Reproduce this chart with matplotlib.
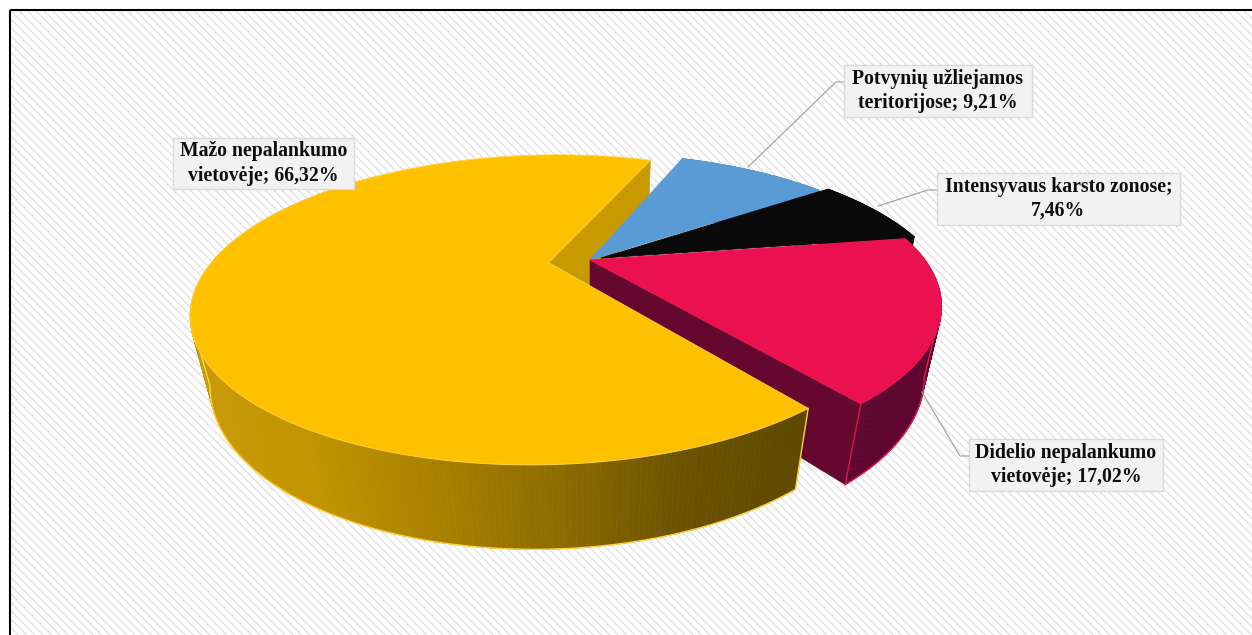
import numpy as np
import matplotlib
matplotlib.use("Agg")
import matplotlib.pyplot as plt
from matplotlib.patches import Polygon, Rectangle

# ---- data ----
categories = ["Mažo nepalankumo\nvietovėje", "Potvynių užliejamos\nteritorijose",
              "Intensyvaus karsto zonose", "Didelio nepalankumo\nvietovėje"]
values = [66.32, 9.21, 7.46, 17.02]
value_labels = ["66,32%", "9,21%", "7,46%", "17,02%"]
separators = ["; ", "; ", ";\n", "; "]
first_slice_angle = 142.0

top_colors = ["#FFC000", "#5B9BD5", "#0A0A0A", "#EB1150"]
wall_colors = ["#C39600", "#2F5F8A", "#050505", "#5E0630"]
cut_colors = ["#C79A00", "#3A6E9C", "#050505", "#640830"]
edge_colors = ["#FFD23C", "#5B9BD5", "#0A0A0A", "#E8174F"]
explode = [0.125, 0, 0.035, 0]

# ---- layout (pixels) ----
W, H = 1252, 635
X0, Y0, A, B, K, Q, C = 590, 260, 335, 139, 0.303, 0.047, 72

boxes = [(173, 138, 354, 189), (844, 65, 1032, 117), (937, 173, 1180, 225), (969, 439, 1163, 491)]
leaders = [None,
           [(748, 167), (836, 82), (845, 82)],
           [(878, 206), (928, 190), (938, 190)],
           [(922, 392), (960, 456), (969, 456)]]

fig = plt.figure(figsize=(W / 100, H / 100), dpi=100, facecolor="white")
ax = fig.add_axes([0, 0, 1, 1])
ax.set_xlim(0, W)
ax.set_ylim(H, 0)
ax.axis("off")

plt.rcParams["hatch.linewidth"] = 1.0
ax.add_patch(Rectangle((10, 10), W + 50, H + 50, facecolor="white", edgecolor="#E2E2E2",
                       hatch="\\\\\\\\", linewidth=0, zorder=0))
ax.plot([10, 10], [H + 5, 10], color="black", lw=1.5, zorder=1, solid_capstyle="butt")
ax.plot([10, W + 5], [10, 10], color="black", lw=1.5, zorder=1, solid_capstyle="butt")


def proj(u, v, z=0.0):
    w = 1 + K * v + Q * z
    return X0 + A * u / w, Y0 + (-B * v + C * z) / w


def rim(th0, th1, du, dv, z=0.0, n=240):
    t = np.radians(np.linspace(th0, th1, n))
    return proj(np.sin(t) + du, np.cos(t) + dv, z)


spans = np.array(values) / sum(values) * 360
starts = first_slice_angle + np.concatenate(([0], np.cumsum(spans)[:-1]))
mids = starts + spans / 2
offs = [(e * np.sin(np.radians(m)), e * np.cos(np.radians(m))) for e, m in zip(explode, mids)]


def top_face(i, z):
    du, dv = offs[i]
    x, y = rim(starts[i], starts[i] + spans[i], du, dv)
    cx, cy = proj(du, dv)
    pts = np.column_stack([np.r_[cx, x], np.r_[cy, y]])
    ax.add_patch(Polygon(pts, closed=True, facecolor=top_colors[i], edgecolor=edge_colors[i],
                         lw=0.7, zorder=z))


def cut_face(i, angle, z, color):
    du, dv = offs[i]
    t = np.radians(angle)
    u, v = np.sin(t) + du, np.cos(t) + dv
    p = [proj(du, dv, 0), proj(u, v, 0), proj(u, v, 1), proj(du, dv, 1)]
    ax.add_patch(Polygon(p, closed=True, facecolor=color, edgecolor=color, lw=0.4, zorder=z))


def outer_wall(i, z, colorfn=None, visible_to=None, silhouette=None):
    du, dv = offs[i]
    end = visible_to if visible_to is not None else starts[i] + spans[i]
    xt, yt = rim(starts[i], end, du, dv, 0)
    xb, yb = rim(starts[i], end, du, dv, 1)
    for j in range(len(xt) - 1):
        c = colorfn(0.5 * (xt[j] + xt[j + 1])) if colorfn else wall_colors[i]
        q = [(xt[j], yt[j]), (xt[j + 1], yt[j + 1]), (xb[j + 1], yb[j + 1]), (xb[j], yb[j])]
        ax.add_patch(Polygon(q, closed=True, facecolor=c, edgecolor=c, lw=0.5, zorder=z))
    # outline only the part of the lower rim that is on the silhouette
    if silhouette == "left":
        kb, kt = int(np.argmin(xb)), int(np.argmin(xt))
        lx = np.r_[xb[:kb + 1], xt[kt]]
        ly = np.r_[yb[:kb + 1], yt[kt]]
    elif silhouette == "right":
        kb, kt = int(np.argmax(xb)), int(np.argmax(xt))
        lx = np.r_[xt[kt], xb[kb:]]
        ly = np.r_[yt[kt], yb[kb:]]
    else:
        return
    ax.plot(lx, ly, color=edge_colors[i], lw=1.0, zorder=z + 0.1)


# gold wall shading, left to right
grad_x = np.array([185, 300, 440, 560, 680, 810])
grad_rgb = np.array([[0xC8, 0x9A, 0x05], [0xC2, 0x95, 0x00], [0xA8, 0x80, 0x00],
                     [0x8C, 0x6B, 0x00], [0x6C, 0x53, 0x00], [0x5E, 0x49, 0x00]]) / 255


def gold(x):
    return tuple(np.interp(x, grad_x, grad_rgb[:, c]) for c in range(3))


# painter's order, back to front
cut_face(0, starts[0] + spans[0], 2, cut_colors[0])      # gold cut at the back
outer_wall(1, 3)
top_face(1, 4)
outer_wall(2, 5)
top_face(2, 6)
outer_wall(3, 7, silhouette="right")
cut_face(3, starts[3] + spans[3], 8, cut_colors[3])       # red cut, front spoke
top_face(3, 9)
# bright vertical edge on the red tip
t = np.radians(starts[3] + spans[3])
pa, pb = proj(np.sin(t), np.cos(t), 0), proj(np.sin(t), np.cos(t), 1)
ax.plot([pa[0], pb[0]], [pa[1], pb[1]], color="#D81648", lw=1.0, zorder=9.5)
outer_wall(0, 10, gold, visible_to=315, silhouette="left")  # the back of the gold rim stays hidden
du, dv = offs[0]
t = np.radians(starts[0])
pa, pb = proj(np.sin(t) + du, np.cos(t) + dv, 0), proj(np.sin(t) + du, np.cos(t) + dv, 1)
ax.plot([pa[0], pb[0]], [pa[1], pb[1]], color=edge_colors[0], lw=1.0, zorder=10.2)
top_face(0, 11)

# leaders and labels
for pts in leaders:
    if pts:
        xs, ys = zip(*pts)
        ax.plot(xs, ys, color="#A6A6A6", lw=0.9, zorder=12)

for cat, val, sep, (x0, y0, x1, y1) in zip(categories, value_labels, separators, boxes):
    ax.add_patch(Rectangle((x0, y0), x1 - x0, y1 - y0, facecolor="#F2F2F2",
                           edgecolor="#D9D9D9", lw=1.0, zorder=13))
    ax.text((x0 + x1) / 2, (y0 + y1) / 2, f"{cat}{sep}{val}", ha="center", va="center",
            family="Liberation Serif", fontweight="bold", fontsize=14.2, color="#0D0D0D",
            linespacing=1.27, zorder=14)

fig.savefig("out.png", dpi=100)
